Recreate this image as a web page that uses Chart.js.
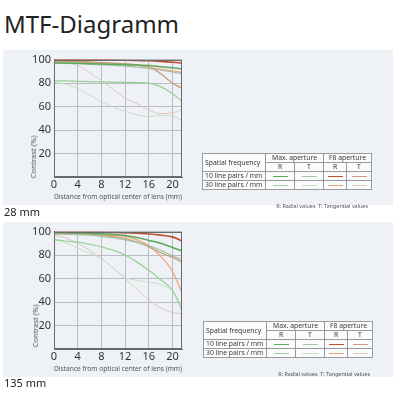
<!DOCTYPE html>
<html>
<head>
<meta charset="utf-8">
<script src="https://cdn.jsdelivr.net/npm/chart.js@4"></script>
<style>
  html, body { margin: 0; padding: 0; background: #fff; width: 400px; height: 400px; overflow: hidden; }
  body { font-family: "Noto Sans", "Open Sans", sans-serif; color: #222; position: relative; }
  #title { position: absolute; left: 4px; top: 7px; font-size: 24px; color: #222; }
  .panel { position: absolute; left: 3px; width: 390px; height: 155px; background: #eef1f5; will-change: transform; }
  .chartbox { position: absolute; left: 0; top: 0; width: 190px; height: 155px; }
  .ytitle { position: absolute; font-size: 7.5px; color: #555; white-space: nowrap;
            transform: translate(-50%, -50%) rotate(-90deg); }
  .caption { position: absolute; left: 4px; font-size: 11px; color: #222; }
  table.leg { position: absolute; border-collapse: collapse; font-size: 6.8px; color: #3a3a3a; background: #fafbfc; }
  table.leg td { border: 1px solid #9a9a9a; padding: 0 2px; height: 8px; line-height: 8px; text-align: center; white-space: nowrap; }
  table.leg td.lab { text-align: left; }
  .sw { width: 15px; height: 1px; margin: 0 auto; }
  .note { position: absolute; font-size: 5.4px; color: #555; white-space: nowrap; }
</style>
</head>
<body>
<div id="title">MTF-Diagramm</div>

<div class="panel" style="top:50px">
  <div class="chartbox"><canvas id="c28"></canvas></div>
  <div class="ytitle" style="left:30px; top:107px">Contrast (%)</div>
  <table class="leg" id="t28" style="left:199px; top:103px"></table>
  <div class="note" style="right:25px; top:152px">R: Radial values&nbsp; T: Tangential values</div>
</div>
<div class="caption" style="top:204px">28 mm</div>

<div class="panel" style="top:222px">
  <div class="chartbox"><canvas id="c135"></canvas></div>
  <div class="ytitle" style="left:32px; top:104px">Contrast (%)</div>
  <table class="leg" id="t135" style="left:200px; top:99px"></table>
  <div class="note" style="right:23px; top:148px">R: Radial values&nbsp; T: Tangential values</div>
</div>
<div class="caption" style="top:375px">135 mm</div>

<script>
// distance from optical center (mm)
const xPos = [0, 2, 4, 6, 8, 10, 12, 14, 16, 18, 20, 21.6];
const xTicks = [0, 4, 8, 12, 16, 20];
const yTicks = [0, 20, 40, 60, 80, 100];

const seriesNames = ['Max 10 R', 'Max 10 T', 'Max 30 R', 'Max 30 T', 'F8 10 R', 'F8 10 T', 'F8 30 R', 'F8 30 T'];

// 28 mm
const w_max10R = [97, 97, 96.8, 96.5, 96.2, 96, 95.7, 95.3, 95, 94, 93, 92];
const w_max10T = [97, 96.8, 96.5, 96, 95.5, 95, 94.5, 93.5, 92.5, 91, 89.5, 88];
const w_max30R = [82, 81.8, 81.5, 81.2, 81, 80.8, 80.6, 80.4, 80, 77, 71, 64.5];
const w_max30T = [80.5, 79, 75.5, 70, 64, 59.5, 56, 53, 51.5, 52.5, 52, 48];
const w_f8_10R = [100, 100, 100, 100, 99.8, 99.6, 99.4, 99.2, 99, 98.5, 97.8, 97];
const w_f8_10T = [99, 98.8, 98.5, 98, 97.5, 97, 96.5, 95.5, 93.5, 88, 80, 75.5];
const w_f8_30R = [98.5, 98.3, 98, 97.5, 97, 96.5, 96, 95, 93.5, 92, 90.5, 89];
const w_f8_30T = [98, 97.5, 95, 89, 82, 74.5, 67, 62.5, 57, 54, 54.5, 57.5];

// 135 mm
const t_max10R = [99, 99, 98.8, 98.5, 98.2, 97.6, 96.7, 95, 92.5, 90, 86.5, 83.5];
const t_max10T = [98, 97.8, 97.5, 97, 96, 94.6, 93, 90.8, 88, 84, 79.5, 76];
const t_max30R = [93, 92, 91, 89.2, 87, 84, 80, 74, 67, 59, 50, 33];
const t_max30T = [94, 90.5, 86, 81.5, 77, 69, 61, 58.5, 57, 55, 49, 37];
const t_f8_10R = [99.5, 99.5, 99.5, 99.4, 99.3, 99.2, 99, 98.6, 98, 97, 95.5, 92];
const t_f8_10T = [99, 98.8, 98.5, 97.8, 97, 95.6, 94, 91, 87, 82, 78, 74];
const t_f8_30R = [98, 97.8, 97.5, 97.3, 97, 96.6, 96, 93, 88, 79, 66, 48];
const t_f8_30T = [97, 94.5, 90, 84, 77, 69, 60, 51, 42, 35, 31, 30];

const lineStyle = [
  { color: '#5aa95a', width: 1.5 },
  { color: '#a7c2a7', width: 1.2 },
  { color: '#98d098', width: 1.2 },
  { color: '#c9ddc9', width: 1 },
  { color: '#bf4f2c', width: 1.6 },
  { color: '#c99c80', width: 1.3 },
  { color: '#efa476', width: 1.2 },
  { color: '#e3c7b3', width: 1 }
];

const frame = {
  id: 'frame',
  afterDraw(chart) {
    const a = chart.chartArea, ctx = chart.ctx;
    ctx.save();
    ctx.strokeStyle = '#6a6a6a';
    ctx.lineWidth = 1;
    ctx.strokeRect(Math.round(a.left) + 0.5, Math.round(a.top) + 0.5,
                   Math.round(a.right - a.left) - 1, Math.round(a.bottom - a.top) - 1);
    ctx.restore();
  }
};

function makeChart(id, series) {
  new Chart(document.getElementById(id), {
    type: 'line',
    data: {
      datasets: series.map((vals, i) => ({
        label: seriesNames[i],
        data: vals.map((v, k) => ({ x: xPos[k], y: v })),
        borderColor: lineStyle[i].color,
        borderWidth: lineStyle[i].width,
        pointRadius: 0,
        cubicInterpolationMode: 'monotone',
        fill: false
      }))
    },
    options: {
      responsive: true,
      maintainAspectRatio: false,
      animation: false,
      layout: { padding: { top: 7, right: 11, left: 0, bottom: 0 } },
      plugins: { legend: { display: false }, tooltip: { enabled: false } },
      scales: {
        x: {
          type: 'linear', min: 0, max: 21.6,
          afterBuildTicks: s => { s.ticks = xTicks.map(v => ({ value: v })); },
          afterFit: s => { s.height = 28; },
          grid: { color: '#b9bcc0', drawTicks: false },
          border: { color: '#6a6a6a' },
          ticks: { font: { family: 'Noto Sans', size: 11 }, color: '#333', padding: 1, maxRotation: 0 },
          title: { display: true, text: 'Distance from optical center of lens (mm)',
                   font: { family: 'Noto Sans', size: 7.8 }, color: '#555', padding: { top: 2, bottom: 4 } }
        },
        y: {
          min: 0, max: 100,
          afterBuildTicks: s => { s.ticks = yTicks.map(v => ({ value: v })); },
          afterFit: s => { s.width = 51; },
          grid: { color: '#b9bcc0', drawTicks: false },
          border: { color: '#6a6a6a' },
          ticks: { font: { family: 'Noto Sans', size: 11 }, color: '#333', padding: 3,
                   callback: v => v === 0 ? '' : v }
        }
      }
    },
    plugins: [frame]
  });
}

function makeTable(id) {
  const t = document.getElementById(id);
  const sw = i => `<td><div class="sw" style="background:${lineStyle[i].color}"></div></td>`;
  t.innerHTML =
    `<tr><td class="lab" rowspan="2" style="width:58px">Spatial frequency</td>` +
    `<td colspan="2">Max. aperture</td><td colspan="2">F8 aperture</td></tr>` +
    `<tr><td style="width:24px">R</td><td style="width:24px">T</td><td style="width:18px">R</td><td style="width:20px">T</td></tr>` +
    `<tr><td class="lab">10 line pairs / mm</td>${sw(0)}${sw(1)}${sw(4)}${sw(5)}</tr>` +
    `<tr><td class="lab">30 line pairs / mm</td>${sw(2)}${sw(3)}${sw(6)}${sw(7)}</tr>`;
}

makeChart('c28', [w_max10R, w_max10T, w_max30R, w_max30T, w_f8_10R, w_f8_10T, w_f8_30R, w_f8_30T]);
makeChart('c135', [t_max10R, t_max10T, t_max30R, t_max30T, t_f8_10R, t_f8_10T, t_f8_30R, t_f8_30T]);
makeTable('t28');
makeTable('t135');
</script>
</body>
</html>
